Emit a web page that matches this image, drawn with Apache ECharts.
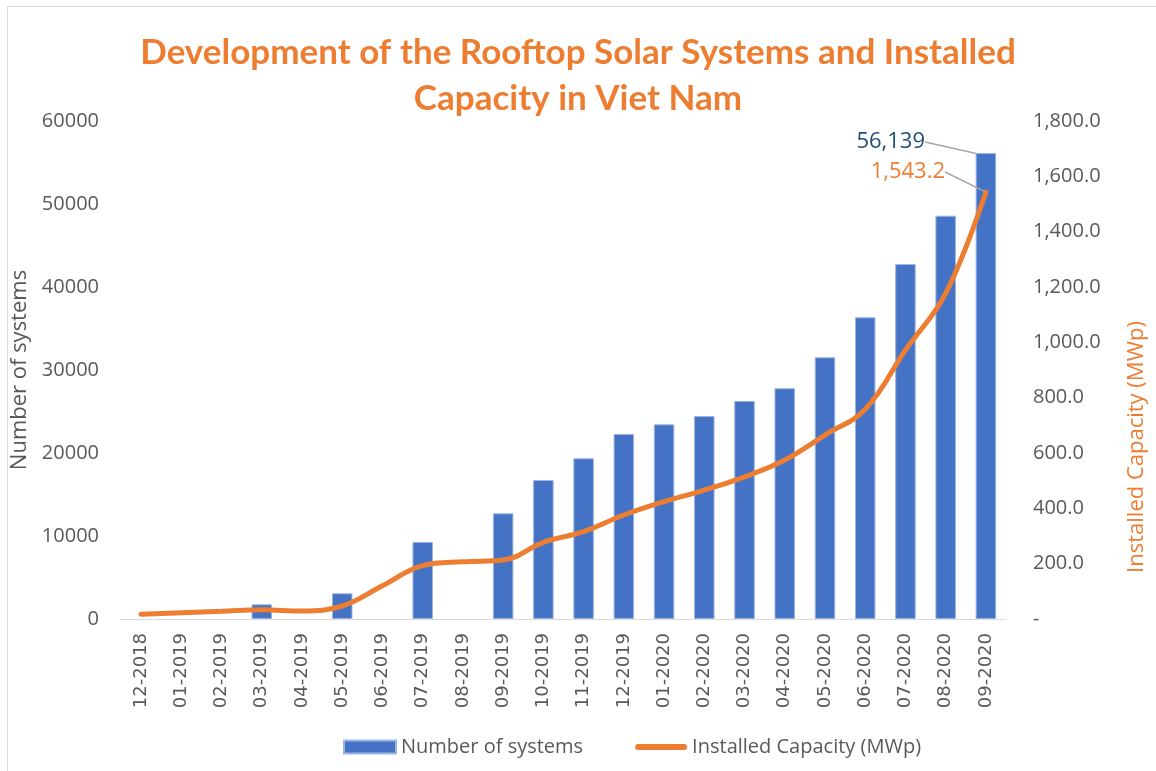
<!DOCTYPE html>
<html>
<head>
<meta charset="utf-8">
<script src="https://cdn.jsdelivr.net/npm/echarts@6/dist/echarts.min.js"></script>
<style>
  html, body { margin: 0; padding: 0; background: #fff; }
  #chart { width: 1156px; height: 771px; }
</style>
</head>
<body>
<div id="chart"></div>
<script>
var months = ['12-2018', '01-2019', '02-2019', '03-2019', '04-2019', '05-2019', '06-2019', '07-2019',
  '08-2019', '09-2019', '10-2019', '11-2019', '12-2019', '01-2020', '02-2020', '03-2020', '04-2020',
  '05-2020', '06-2020', '07-2020', '08-2020', '09-2020'];
// number of systems (bars), blank months have no bar
var systems = [null, null, null, 1770, null, 3100, null, 9280, null, 12730, 16750, 19360, 22290,
  23450, 24450, 26270, 27800, 31530, 36350, 42770, 48590, 56139];
// installed capacity MWp (line)
var capacity = [17, 23, 28, 33, 29, 47, 120, 193, 207, 213, 277, 316, 376, 424, 466, 514, 575,
  665, 758, 972, 1177, 1543.2];

var blue = '#4472C4';
var orange = '#ED7D31';
var grey = '#595959';
var font = '"Open Sans", sans-serif';

var chart = echarts.init(document.getElementById('chart'));
var last = months.length - 1;

var guide = { show: true, lineStyle: { color: '#a6a6a6', width: 1.5 } };

var option = {
  animation: false,
  title: {
    text: 'Development of the Rooftop Solar Systems and Installed\nCapacity in Viet Nam',
    left: 'center',
    top: 25,
    textStyle: { fontFamily: 'Lato, sans-serif', fontWeight: 'bold', fontSize: 35, lineHeight: 46, color: orange }
  },
  graphic: [{
    type: 'rect', silent: true,
    shape: { x: 7.5, y: 6.5, width: 1200, height: 900 },
    style: { fill: 'none', stroke: '#d9d9d9', lineWidth: 1 }
  }],
  legend: {
    bottom: 9,
    left: 338,
    itemGap: 52,
    itemWidth: 52,
    itemHeight: 13,
    textStyle: { fontFamily: font, fontSize: 20, color: grey },
    data: [
      { name: 'Number of systems', icon: 'rect' },
      { name: 'Installed Capacity (MWp)', icon: 'path://M2.5,0 L41.5,0 A2.5,2.5 0 0 1 41.5,5 L2.5,5 A2.5,2.5 0 0 1 2.5,0 Z' }
    ]
  },
  grid: { left: 121, right: 139, top: 121, bottom: 152 },
  xAxis: {
    type: 'category',
    data: months,
    axisLine: { lineStyle: { color: '#d9d9d9' } },
    axisTick: { show: false },
    axisLabel: { rotate: 90, interval: 0, margin: 14, fontFamily: 'DejaVu Sans', fontSize: 18, color: grey }
  },
  yAxis: [{
    type: 'value',
    min: 0, max: 60000, interval: 10000,
    name: 'Number of systems',
    nameLocation: 'middle',
    nameGap: 77,
    nameTextStyle: { fontFamily: font, fontSize: 22, color: grey },
    splitLine: { show: false },
    axisLabel: {
      margin: 22, fontFamily: font, fontSize: 20, color: grey,
      formatter: function (v) { return String(v); }
    }
  }, {
    type: 'value',
    min: 0, max: 1800, interval: 200,
    name: 'Installed Capacity (MWp)',
    nameLocation: 'middle',
    nameRotate: 90,
    nameGap: 120,
    nameTextStyle: { fontFamily: font, fontSize: 22, color: orange, padding: [0, 154, 0, 0] },
    splitLine: { show: false },
    axisLabel: {
      margin: 27, fontFamily: font, fontSize: 20, color: grey,
      formatter: function (v) {
        if (v === 0) return '-';
        return v.toLocaleString('en-US', { minimumFractionDigits: 1, maximumFractionDigits: 1 });
      }
    }
  }],
  series: [{
    name: 'Number of systems',
    type: 'bar',
    barCategoryGap: '49%',
    itemStyle: { color: blue, borderColor: '#9db5e3', borderWidth: 1 },
    data: systems.map(function (v, i) {
      if (i !== last) return v;
      return {
        value: v,
        label: {
          show: true, position: 'top', color: '#1F4E79', fontFamily: font, fontSize: 22,
          formatter: function (p) { return p.value.toLocaleString('en-US'); }
        },
        labelLine: guide
      };
    }),
    labelLayout: function (p) {
      if (p.dataIndex !== last) return {};
      return { x: 925, y: 142, align: 'right', verticalAlign: 'middle' };
    }
  }, {
    name: 'Installed Capacity (MWp)',
    type: 'line',
    yAxisIndex: 1,
    smooth: 0.4,
    showSymbol: true,
    symbol: 'none',
    lineStyle: { color: orange, width: 5, cap: 'round' },
    itemStyle: { color: orange },
    data: capacity.map(function (v, i) {
      if (i !== last) return v;
      return {
        value: v,
        symbol: 'circle',
        symbolSize: 2,
        label: {
          show: true, position: 'top', color: orange, fontFamily: font, fontSize: 22,
          formatter: function (p) { return p.value.toLocaleString('en-US', { minimumFractionDigits: 1 }); }
        },
        labelLine: guide
      };
    }),
    labelLayout: function (p) {
      if (p.dataIndex !== last) return {};
      return { x: 945, y: 172, align: 'right', verticalAlign: 'middle' };
    }
  }]
};

chart.setOption(option);
</script>
</body>
</html>
